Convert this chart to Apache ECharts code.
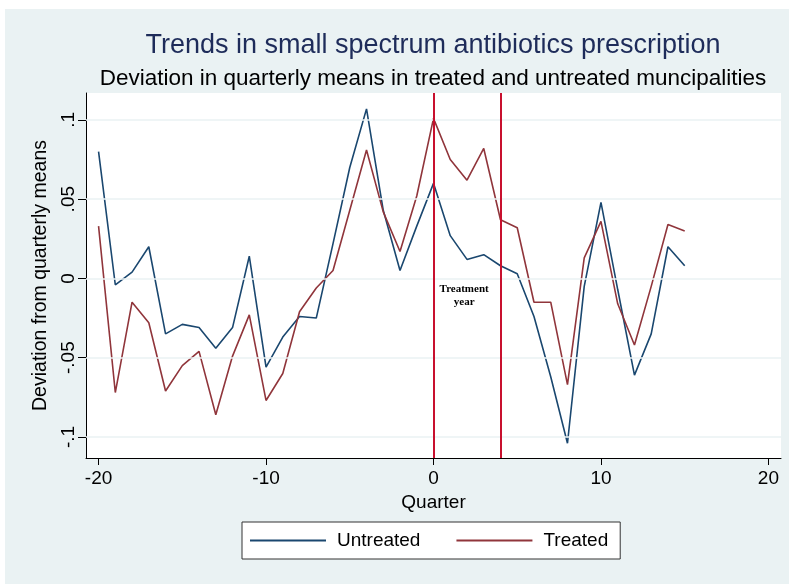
<!DOCTYPE html>
<html>
<head>
<meta charset="utf-8">
<script src="https://cdn.jsdelivr.net/npm/echarts@6/dist/echarts.min.js"></script>
<style>
  html, body { margin: 0; padding: 0; background: #fff; }
  #chart { width: 789px; height: 584px; }
</style>
</head>
<body>
<div id="chart"></div>
<script>
const quarters = [-20, -19, -18, -17, -16, -15, -14, -13, -12, -11, -10, -9, -8, -7, -6, -5, -4, -3,
  -2, -1, 0, 1, 2, 3, 4, 5, 6, 7, 8, 9, 10, 11, 12, 13, 14, 15];
const untreated = [0.080, -0.004, 0.004, 0.020, -0.035, -0.029, -0.031, -0.044, -0.031, 0.014,
  -0.056, -0.037, -0.024, -0.025, 0.022, 0.070, 0.107, 0.043, 0.005, 0.033, 0.060, 0.027, 0.012,
  0.015, 0.008, 0.003, -0.024, -0.062, -0.104, -0.005, 0.048, -0.007, -0.061, -0.035, 0.020, 0.008];
const treated = [0.033, -0.072, -0.015, -0.028, -0.071, -0.055, -0.046, -0.086, -0.049, -0.023,
  -0.077, -0.060, -0.021, -0.006, 0.005, 0.043, 0.081, 0.042, 0.017, 0.052, 0.101, 0.075, 0.062,
  0.082, 0.037, 0.032, -0.015, -0.015, -0.067, 0.013, 0.036, -0.016, -0.042, -0.005, 0.034, 0.030];
const xTicks = [-20, -10, 0, 10, 20];
const yTicks = [-0.1, -0.05, 0, 0.05, 0.1];
const treatmentLines = [0, 4];

const fnt = "'Liberation Sans', Arial, sans-serif";
const stataLabel = v => {
  if (Math.abs(v) < 1e-9) return "0";
  return String(+v.toFixed(3)).replace("0.", ".");
};

const chart = echarts.init(document.getElementById("chart"));
const option = {
  animation: false,
  backgroundColor: "#fff",
  graphic: [
    { type: "rect", left: 5, top: 9, z: -10, shape: { width: 784, height: 575 }, style: { fill: "#EAF2F3" } },
    { type: "text", x: 433, y: 46, style: { text: "Trends in small spectrum antibiotics prescription",
      font: "27px " + fnt, fill: "#1E2C5A", textAlign: "center", textVerticalAlign: "middle" } },
    { type: "text", x: 433, y: 79, style: { text: "Deviation in quarterly means in treated and untreated muncipalities",
      font: "22.5px " + fnt, fill: "#000", textAlign: "center", textVerticalAlign: "middle" } }
  ],
  grid: {
    left: 86, right: 8, top: 93, bottom: 126,
    show: true, backgroundColor: "#fff", borderWidth: 0
  },
  legend: {
    data: ["Untreated", "Treated"],
    left: 242, top: 522,
    backgroundColor: "#fff", borderColor: "#333", borderWidth: 1,
    padding: [9, 12, 9, 8],
    itemWidth: 76, itemHeight: 2, itemGap: 36,
    icon: "rect",
    textStyle: { fontFamily: fnt, fontSize: 19, lineHeight: 19, color: "#000", padding: [0, 0, 0, 6] }
  },
  xAxis: {
    type: "value", min: -20.75, max: 20.75,
    name: "Quarter", nameLocation: "middle", nameGap: 30,
    nameTextStyle: { fontFamily: fnt, fontSize: 19, color: "#000" },
    axisLine: { onZero: false, lineStyle: { color: "#000", width: 1 } },
    axisTick: { show: true, length: 7, customValues: xTicks, lineStyle: { color: "#000" } },
    axisLabel: { customValues: xTicks, fontFamily: fnt, fontSize: 19, color: "#000", margin: 11 },
    splitLine: { show: false }
  },
  yAxis: {
    type: "value", min: -0.1133, max: 0.117,
    name: "Deviation from quarterly means", nameLocation: "middle", nameGap: 33,
    nameTextStyle: { fontFamily: fnt, fontSize: 19.5, color: "#000" },
    axisLine: { show: true, onZero: false, lineStyle: { color: "#000", width: 1 } },
    axisTick: { show: true, length: 8, customValues: yTicks, lineStyle: { color: "#000" } },
    axisLabel: { customValues: yTicks, rotate: 90, fontFamily: fnt, fontSize: 19, color: "#000",
      margin: 8, formatter: stataLabel },
    splitLine: { show: false }
  },
  series: [
    {
      name: "grid", type: "line", data: [], z: 1, silent: true,
      markLine: {
        silent: true, symbol: "none", label: { show: false },
        lineStyle: { color: "#EAF2F3", width: 1.5, type: "solid" },
        data: yTicks.map(v => ({ yAxis: v }))
      }
    },
    {
      name: "Untreated", type: "line", z: 2, symbol: "none",
      color: "#1A476F", lineStyle: { width: 1.6, color: "#1A476F" },
      data: quarters.map((q, i) => [q, untreated[i]])
    },
    {
      name: "Treated", type: "line", z: 2, symbol: "none",
      color: "#90353B", lineStyle: { width: 1.6, color: "#90353B" },
      data: quarters.map((q, i) => [q, treated[i]])
    },
    {
      name: "marks", type: "line", data: [], z: 4, silent: true,
      markLine: {
        silent: true, symbol: "none", label: { show: false },
        lineStyle: { color: "#C8102E", width: 2, type: "solid" },
        data: treatmentLines.map(v => ({ xAxis: v }))
      },
      markPoint: {
        silent: true, symbol: "circle", symbolSize: 0,
        label: { show: true, formatter: "Treatment\nyear", fontFamily: "'Liberation Serif', 'Times New Roman', serif",
          fontWeight: "bold", fontSize: 11, lineHeight: 13, color: "#000", align: "center" },
        data: [{ coord: [1.83, -0.011] }]
      }
    }
  ]
};
chart.setOption(option);
</script>
</body>
</html>
